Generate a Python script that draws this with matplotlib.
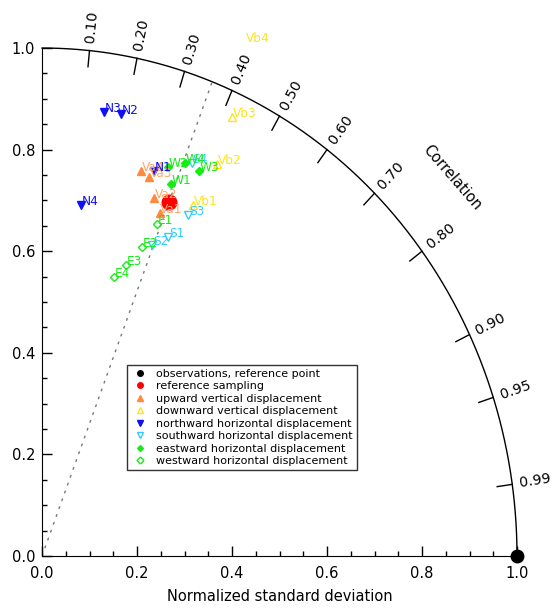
import numpy as np
import matplotlib.pyplot as plt
from matplotlib.lines import Line2D

# normalized std (x) and y component
ref_x, ref_y = 0.2674, 0.6968

va_names = ['Va1', 'Va2', 'Va3', 'Va4']
va_x = [0.2478, 0.2364, 0.2253, 0.2084]
va_y = [0.6758, 0.7041, 0.7461, 0.7579]

vb_names = ['Vb1', 'Vb2', 'Vb3', 'Vb4']
vb_x = [0.3173, 0.3684, 0.3994, 0.4274]
vb_y = [0.6909, 0.7726, 0.8648, 1.0128]

n_names = ['N1', 'N2', 'N3', 'N4']
n_x = [0.2364, 0.1663, 0.1312, 0.0815]
n_y = [0.7579, 0.8701, 0.8740, 0.6909]

s_names = ['S1', 'S2', 'S3', 'S4']
s_x = [0.2659, 0.2326, 0.3080, 0.3158]
s_y = [0.6285, 0.6122, 0.6713, 0.7736]

w_names = ['W1', 'W2', 'W3', 'W4']
w_x = [0.2716, 0.2653, 0.3305, 0.3011]
w_y = [0.7317, 0.7657, 0.7579, 0.7736]

e_names = ['E1', 'E2', 'E3', 'E4']
e_x = [0.2415, 0.2105, 0.1768, 0.1516]
e_y = [0.6535, 0.6077, 0.5728, 0.5498]

corr_ticks = [0.1, 0.2, 0.3, 0.4, 0.5, 0.6, 0.7, 0.8, 0.9, 0.95, 0.99]
corr_labels = ['0.10', '0.20', '0.30', '0.40', '0.50', '0.60', '0.70', '0.80', '0.90', '0.95', '0.99']

orange, orange_txt = '#FF8A3D', '#FFA666'
yellow = '#FFE41A'
blue = '#1010F5'
cyan = '#33CCFF'
green = '#11EE11'

plt.rcParams['font.family'] = 'DejaVu Sans'
fig = plt.figure(figsize=(5.52, 6.08), dpi=100)
ax = fig.add_axes([0.0761, 0.0855, 0.8605, 0.8355])
ax.set_xlim(0, 1)
ax.set_ylim(0, 1)
ax.spines['top'].set_visible(False)
ax.spines['right'].set_visible(False)
ax.set_xticks(np.arange(0, 1.01, 0.2))
ax.set_yticks(np.arange(0, 1.01, 0.2))
ax.set_xticks(np.arange(0, 1.01, 0.05), minor=True)
ax.set_yticks(np.arange(0, 1.01, 0.05), minor=True)
ax.set_xticklabels(['%.1f' % v for v in np.arange(0, 1.01, 0.2)])
ax.set_yticklabels(['%.1f' % v for v in np.arange(0, 1.01, 0.2)])
ax.tick_params(which='major', direction='in', length=7, width=1, labelsize=10.5)
ax.tick_params(which='minor', direction='in', length=3.5, width=1)
ax.tick_params(axis='x', pad=7)
ax.tick_params(axis='y', pad=5)
ax.set_xlabel('Normalized standard deviation', fontsize=10.5, labelpad=6)

# outer arc with correlation ticks
th = np.linspace(0, np.pi / 2, 300)
ax.plot(np.cos(th), np.sin(th), color='k', lw=1, clip_on=False)
for c, lab in zip(corr_ticks, corr_labels):
    a = np.arccos(c)
    ax.plot([np.cos(a), 0.968 * np.cos(a)], [np.sin(a), 0.968 * np.sin(a)],
            color='k', lw=1, clip_on=False)
    ax.text(1.016 * np.cos(a), 1.016 * np.sin(a), lab, rotation=np.degrees(a),
            transform_rotates_text=True, rotation_mode='anchor',
            ha='left', va='center', fontsize=10.3)
ax.text(0.863, 0.744, 'Correlation', rotation=-49, ha='center', va='center', fontsize=10.5)

# reference correlation line
r_ref = np.hypot(ref_x, ref_y)
ax.plot([0, ref_x / r_ref], [0, ref_y / r_ref], color='#777777', ls=(0, (2, 4)), lw=1)

ms = 5.5
ax.plot(va_x, va_y, '^', color=orange, ms=ms, ls='none')
ax.plot(vb_x, vb_y, '^', mfc='none', mec=yellow, mew=1, ms=ms, ls='none')
ax.plot(n_x, n_y, 'v', color=blue, ms=ms, ls='none')
ax.plot(s_x, s_y, 'v', mfc='none', mec=cyan, mew=1, ms=ms, ls='none')
ax.plot(w_x, w_y, 'D', color=green, ms=4, ls='none')
ax.plot(e_x, e_y, 'D', mfc='none', mec=green, mew=1, ms=4.5, ls='none')
ax.plot(ref_x, ref_y, 'o', color='red', ms=10.5)
ax.plot(1.0, 0.0, 'o', color='k', ms=9, clip_on=False, zorder=5)

groups = [(va_names, va_x, va_y, orange_txt), (vb_names, vb_x, vb_y, yellow),
          (n_names, n_x, n_y, blue), (s_names, s_x, s_y, cyan),
          (w_names, w_x, w_y, green), (e_names, e_x, e_y, green)]
for names, xs, ys, col in groups:
    for nm, x, y in zip(names, xs, ys):
        ax.annotate(nm, (x, y), xytext=(0.5, 0), textcoords='offset points',
                    ha='left', va='baseline', color=col, fontsize=8.7, annotation_clip=False)

handles = [
    Line2D([], [], marker='o', color='k', ls='none', ms=4),
    Line2D([], [], marker='o', color='red', ls='none', ms=4),
    Line2D([], [], marker='^', color=orange, ls='none', ms=4),
    Line2D([], [], marker='^', mfc='none', mec=yellow, ls='none', ms=4.5),
    Line2D([], [], marker='v', color=blue, ls='none', ms=4),
    Line2D([], [], marker='v', mfc='none', mec=cyan, ls='none', ms=4.5),
    Line2D([], [], marker='D', color=green, ls='none', ms=3),
    Line2D([], [], marker='D', mfc='none', mec=green, ls='none', ms=3.5),
]
labels = ['observations, reference point', 'reference sampling',
          'upward vertical displacement', 'downward vertical displacement',
          'northward horizontal displacement', 'southward horizontal displacement',
          'eastward horizontal displacement', 'westward horizontal displacement']
leg = ax.legend(handles, labels, loc='upper left', bbox_to_anchor=(0.179, 0.376),
                borderaxespad=0, fontsize=8, frameon=True, fancybox=False,
                edgecolor='k', labelspacing=0.22, handletextpad=0.7, handlelength=1.6,
                borderpad=0.35)
leg.get_frame().set_linewidth(1)

fig.savefig('out.png', dpi=100)
